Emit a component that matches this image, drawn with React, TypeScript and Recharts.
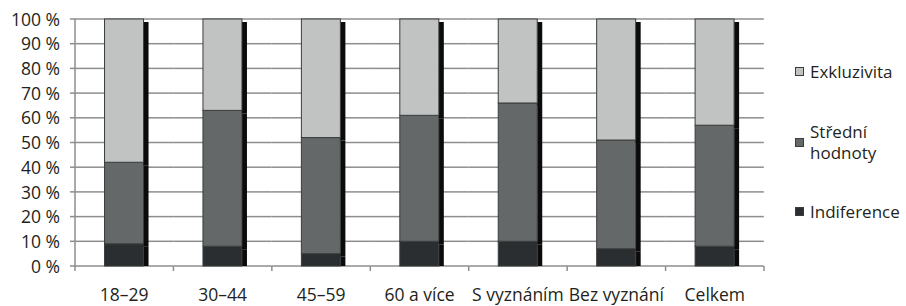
import { Bar, BarChart, XAxis, YAxis } from "recharts";

const categories = ["18–29", "30–44", "45–59", "60 a více", "S vyznáním", "Bez vyznání", "Celkem"];
const indiference = [9, 8, 5, 10, 10, 7, 8];
const stredni = [33, 55, 47, 51, 56, 44, 49];
const exkluzivita = [58, 37, 48, 39, 34, 49, 43];
const yTicks = [0, 10, 20, 30, 40, 50, 60, 70, 80, 90, 100];

const series = [
  { key: "indiference", name: "Indiference", fill: "#2b2e30" },
  { key: "stredni", name: "Střední hodnoty", fill: "#646868" },
  { key: "exkluzivita", name: "Exkluzivita", fill: "#c1c3c2" },
];

const data = categories.map((c, i) => ({
  cat: c,
  indiference: indiference[i],
  stredni: stredni[i],
  exkluzivita: exkluzivita[i],
}));

const ink = "#231f20";
const grid = "#8e8e8e";
const font = "'Open Sans', sans-serif";
const fs = 17.5;

// plot box (layout only)
const W = 906;
const H = 306;
const M = { top: 19, right: 142, bottom: 0, left: 0 };
const axisW = 75;
const axisH = 40;
const plotLeft = M.left + axisW;
const plotRight = W - M.right;
const plotH = H - M.top - axisH;
const plotBottom = M.top + plotH;
const halfBand = (plotRight - plotLeft) / categories.length / 2;

// bar segment with a dark drop shadow; the bottom segment also lays the
// horizontal grid of its band underneath
const segment = (isBottom: boolean) => (props: any) => {
  const { x, y, width, height, fill } = props;
  const cx = Number(x) + Number(width) / 2;
  const shTop = y + 3;
  const shBottom = isBottom ? y + height : y + height + 3;
  return (
    <g>
      {isBottom &&
        yTicks.map((t) => (
          <rect
            key={t}
            x={cx - halfBand}
            y={plotBottom - (t * plotH) / 100 - 0.75}
            width={halfBand * 2}
            height={1.5}
            fill={grid}
          />
        ))}
      <rect x={x + width} y={shTop} width={5} height={Math.max(0, shBottom - shTop)} fill="#0b0b0b" />
      <rect x={x} y={y} width={width} height={Math.max(0, height)} fill={fill} stroke="#3b3d3d" strokeWidth={1} />
    </g>
  );
};

const YTick = (p: any) => {
  const { x, y, payload } = p;
  return (
    <g>
      <rect x={plotLeft - 5} y={y - 0.75} width={5} height={1.5} fill={grid} />
      {payload.value === 100 && <rect x={plotLeft - 0.75} y={y} width={1.5} height={plotH} fill={grid} />}
      <text x={x} y={y} dy="0.38em" textAnchor="end" fill={ink} fontSize={fs} fontFamily={font}>
        {`${payload.value} %`}
      </text>
    </g>
  );
};

const XTick = (p: any) => {
  const { x, y, payload, index } = p;
  return (
    <g>
      <rect x={x - halfBand - 0.75} y={plotBottom} width={1.5} height={5} fill={grid} />
      {index === categories.length - 1 && (
        <rect x={x + halfBand - 0.75} y={plotBottom} width={1.5} height={5} fill={grid} />
      )}
      <text x={x} y={y} dy="0.71em" textAnchor="middle" fill={ink} fontSize={fs} fontFamily={font}>
        {payload.value}
      </text>
    </g>
  );
};

const legendItems = [
  { name: ["Exkluzivita"], fill: "#c1c3c2", top: 61 },
  { name: ["Střední", "hodnoty"], fill: "#646868", top: 121 },
  { name: ["Indiference"], fill: "#2b2e30", top: 201 },
];

export default function App() {
  return (
    <div style={{ position: "fixed", left: 0, top: 0, width: W, height: H, background: "#fff" }}>
      <BarChart width={W} height={H} data={data} barCategoryGap="30%" margin={M}>
        <XAxis
          dataKey="cat"
          height={axisH}
          axisLine={false}
          tickLine={false}
          tickSize={0}
          tickMargin={23}
          interval={0}
          tick={XTick}
        />
        <YAxis
          domain={[0, 100]}
          ticks={yTicks}
          width={axisW}
          axisLine={false}
          tickLine={false}
          tickSize={0}
          tickMargin={15}
          tick={YTick}
        />
        {series.map((s, i) => (
          <Bar
            key={s.key}
            dataKey={s.key}
            name={s.name}
            stackId="a"
            fill={s.fill}
            shape={segment(i === 0)}
            isAnimationActive={false}
          />
        ))}
      </BarChart>
      <div style={{ position: "absolute", left: 795, top: 0 }}>
        {legendItems.map((it) => (
          <div
            key={it.name[0]}
            style={{ position: "absolute", left: 0, top: it.top, display: "flex", alignItems: "center", whiteSpace: "nowrap" }}
          >
            <span
              style={{
                display: "inline-block",
                width: 7,
                height: 7,
                background: it.fill,
                border: "1px solid #3b3d3d",
                marginRight: 6,
              }}
            />
            <span style={{ fontFamily: font, fontSize: 17, lineHeight: "21px", color: ink }}>
              {it.name.map((n) => (
                <div key={n}>{n}</div>
              ))}
            </span>
          </div>
        ))}
      </div>
    </div>
  );
}
